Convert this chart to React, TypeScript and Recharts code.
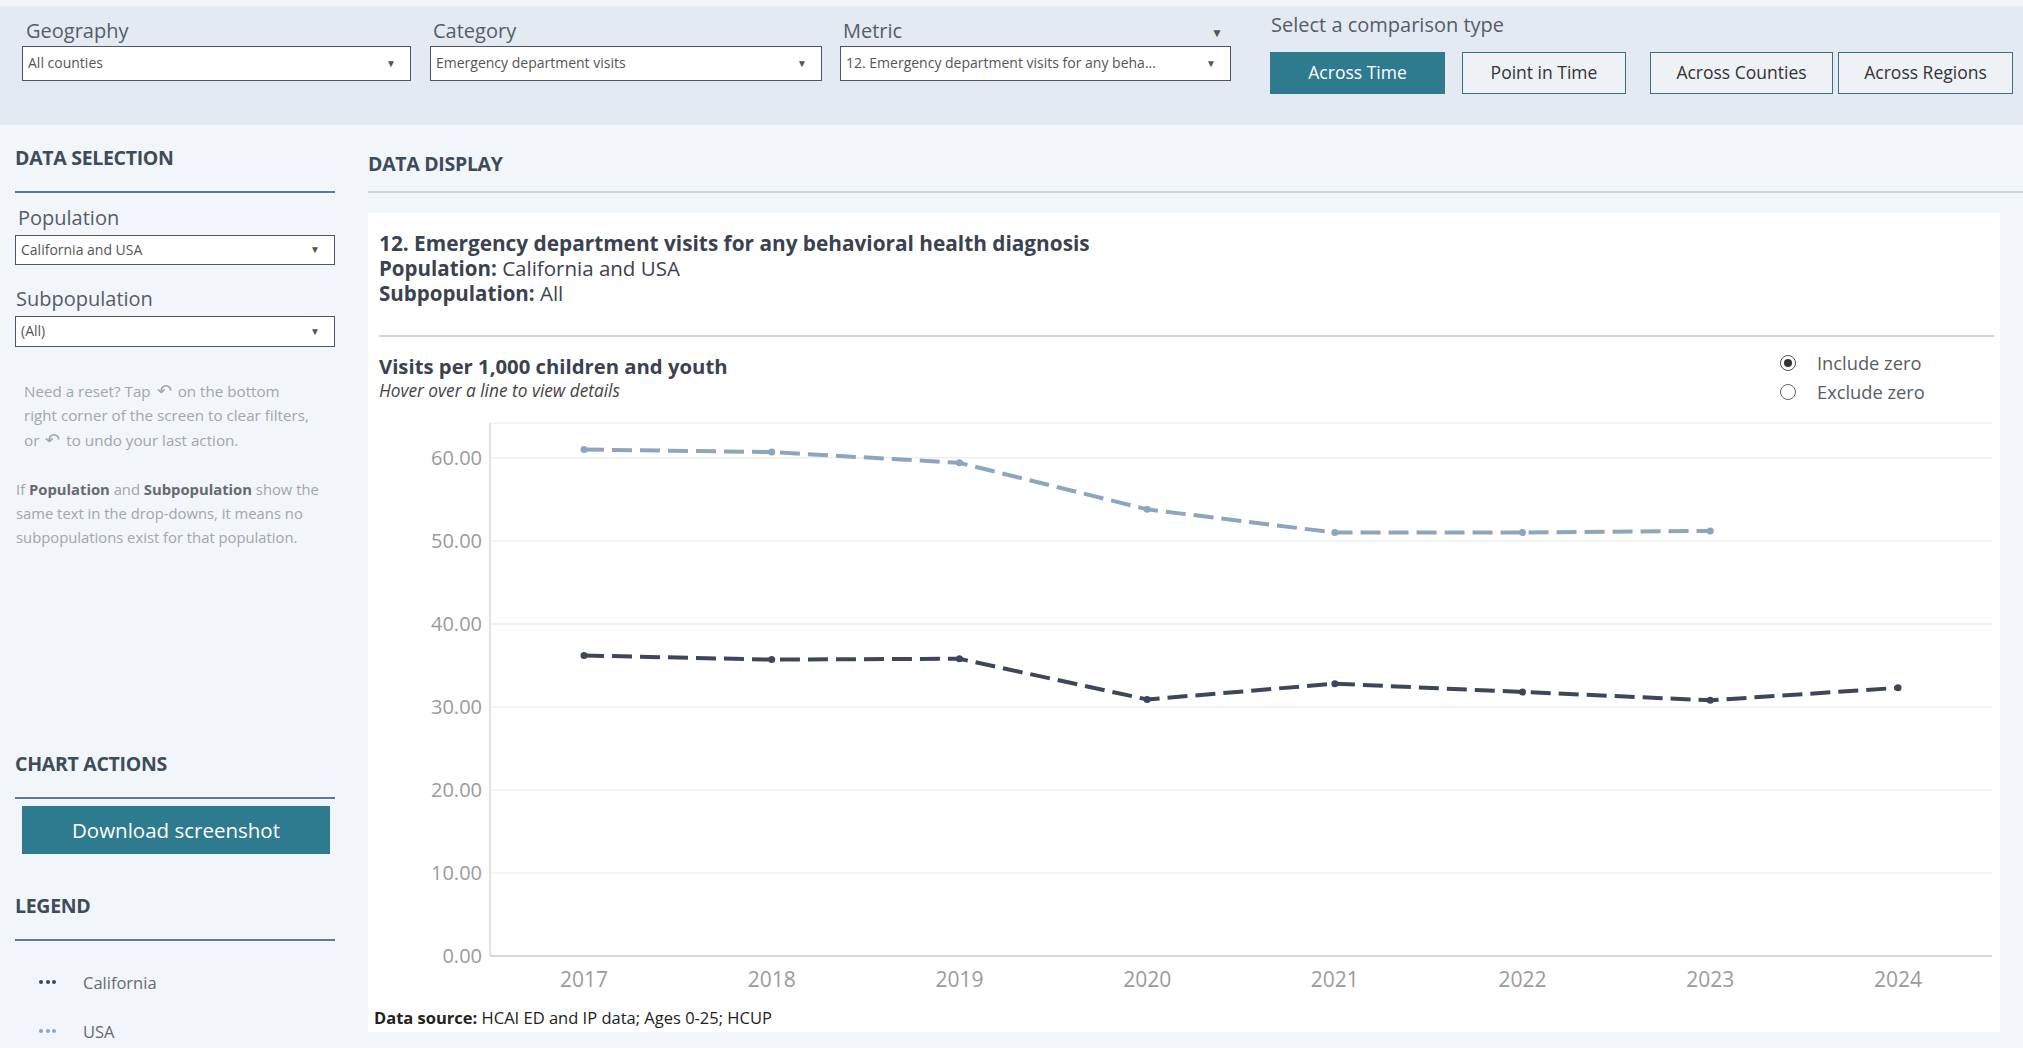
import React from 'react';
import { LineChart, Line, XAxis, YAxis, CartesianGrid } from 'recharts';

const years = ['2017', '2018', '2019', '2020', '2021', '2022', '2023', '2024'];
const californiaVisits = [36.2, 35.7, 35.8, 30.9, 32.8, 31.8, 30.8, 32.3];
const usaVisits = [61.0, 60.7, 59.4, 53.8, 51.0, 51.0, 51.2, null];
const yTicks = [0, 10, 20, 30, 40, 50, 60];

const comparisonTypes = ['Across Time', 'Point in Time', 'Across Counties', 'Across Regions'];

const data = years.map((year, i) => ({
  year,
  California: californiaVisits[i],
  USA: usaVisits[i],
}));

const FONT = '"Open Sans", Lato, sans-serif';
const CA_COLOR = '#3d4759';
const USA_COLOR = '#8da6bd';
const TEAL = '#2e7a8f';

const Txt = ({ x, y, size, children, style }: any) => (
  <div
    style={{
      position: 'absolute',
      left: x,
      top: y - size * 0.7,
      fontSize: size,
      lineHeight: `${size * 1.4}px`,
      whiteSpace: 'nowrap',
      ...style,
    }}
  >
    {children}
  </div>
);

const Dropdown = ({ x, y, w, h, label }: any) => (
  <div
    style={{
      position: 'absolute',
      left: x,
      top: y,
      width: w,
      height: h,
      boxSizing: 'border-box',
      background: '#fff',
      border: '1.5px solid #4d5566',
      fontSize: 14,
      color: '#555',
      lineHeight: `${h - 3}px`,
      paddingLeft: 5,
      whiteSpace: 'nowrap',
    }}
  >
    {label}
    <span style={{ position: 'absolute', right: 14, top: 0, fontSize: 10, color: '#555' }}>▼</span>
  </div>
);

const SectionHead = ({ x, y, w, label }: any) => (
  <>
    <Txt x={x} y={y} size={19.5} style={{ fontWeight: 700, color: '#3e4b5b', letterSpacing: -0.3 }}>{label}</Txt>
    <div style={{ position: 'absolute', left: x, top: y + 33, width: w, height: 2, background: '#5f7a90' }} />
  </>
);

const Undo = () => <span style={{ fontSize: 18, margin: '0 6px' }}>↶</span>;

// three little dots used as the legend swatch
const LegendDots = ({ x, y, color }: any) => (
  <>
    {[0, 1, 2].map((k) => (
      <div key={k} style={{ position: 'absolute', left: x + k * 6.5, top: y - 2, width: 4, height: 4, borderRadius: '50%', background: color }} />
    ))}
  </>
);

export default function App() {
  const buttonX = [1270, 1462, 1650, 1838];
  const buttonW = [175, 164, 183, 175];
  return (
    <div style={{ position: 'absolute', left: 0, top: 0, width: 2023, height: 1048, background: '#f2f5f9', fontFamily: FONT, overflow: 'hidden' }}>
      {/* header band */}
      <div style={{ position: 'absolute', left: 0, top: 6, width: 2023, height: 119, background: '#e4eaf2' }} />
      <Txt x={26} y={31} size={20} style={{ color: '#555d68' }}>Geography</Txt>
      <Dropdown x={22} y={46} w={389} h={35} label="All counties" />
      <Txt x={433} y={31} size={20} style={{ color: '#555d68' }}>Category</Txt>
      <Dropdown x={430} y={46} w={392} h={35} label="Emergency department visits" />
      <Txt x={843} y={31} size={20} style={{ color: '#555d68' }}>Metric</Txt>
      <div style={{ position: 'absolute', left: 1211, top: 24, fontSize: 12, color: '#555' }}>▼</div>
      <Dropdown x={840} y={46} w={391} h={35} label="12. Emergency department visits for any beha..." />
      <Txt x={1271} y={25} size={20} style={{ color: '#555d68' }}>Select a comparison type</Txt>
      {comparisonTypes.map((label, i) => (
        <div
          key={label}
          style={{
            position: 'absolute',
            left: buttonX[i],
            top: 52,
            width: buttonW[i],
            height: 42,
            boxSizing: 'border-box',
            background: i === 0 ? TEAL : '#eef2f7',
            border: `1.5px solid ${i === 0 ? TEAL : '#3e6f82'}`,
            color: i === 0 ? '#fff' : '#333',
            fontSize: 17.5,
            textAlign: 'center',
            lineHeight: '39px',
            whiteSpace: 'nowrap',
          }}
        >
          {label}
        </div>
      ))}

      {/* sidebar */}
      <SectionHead x={15} y={158} w={320} label="DATA SELECTION" />
      <Txt x={18} y={218} size={20} style={{ color: '#555d68' }}>Population</Txt>
      <Dropdown x={15} y={235} w={320} h={30} label="California and USA" />
      <Txt x={16} y={299} size={20} style={{ color: '#555d68' }}>Subpopulation</Txt>
      <Dropdown x={15} y={316} w={320} h={31} label="(All)" />
      <div style={{ position: 'absolute', left: 24, top: 378, fontSize: 15.2, lineHeight: '24px', color: '#a3a6aa', whiteSpace: 'nowrap' }}>
        Need a reset? Tap<Undo />on the bottom<br />right corner of the screen to clear filters,<br />or<Undo />to undo your last action.
      </div>
      <div style={{ position: 'absolute', left: 16, top: 477, fontSize: 14.8, lineHeight: '24px', color: '#a3a6aa', whiteSpace: 'nowrap' }}>
        If <b style={{ color: '#666a70' }}>Population</b> and <b style={{ color: '#666a70' }}>Subpopulation</b> show the<br />
        same text in the drop-downs, it means no<br />subpopulations exist for that population.
      </div>
      <SectionHead x={15} y={764} w={320} label="CHART ACTIONS" />
      <div style={{ position: 'absolute', left: 22, top: 806, width: 308, height: 48, background: TEAL, color: '#fff', fontSize: 20.5, textAlign: 'center', lineHeight: '48px' }}>
        Download screenshot
      </div>
      <SectionHead x={15} y={906} w={320} label="LEGEND" />
      <LegendDots x={39} y={982} color={CA_COLOR} />
      <Txt x={83} y={983} size={16.5} style={{ color: '#666a70' }}>California</Txt>
      <LegendDots x={39} y={1031} color={USA_COLOR} />
      <Txt x={83} y={1032} size={16.5} style={{ color: '#666a70' }}>USA</Txt>

      {/* data display */}
      <Txt x={368} y={164} size={19.5} style={{ fontWeight: 700, color: '#3e4b5b', letterSpacing: -0.3 }}>DATA DISPLAY</Txt>
      <div style={{ position: 'absolute', left: 368, top: 191, width: 1655, height: 2, background: '#c9d4df' }} />
      <div style={{ position: 'absolute', left: 368, top: 213, width: 1632, height: 819, background: '#fff' }} />
      <Txt x={379} y={244} size={20.8} style={{ fontWeight: 700, color: '#3a4250' }}>12. Emergency department visits for any behavioral health diagnosis</Txt>
      <Txt x={379} y={268} size={20.5} style={{ color: '#3a4250' }}><b>Population:</b> California and USA</Txt>
      <Txt x={379} y={293} size={20.5} style={{ color: '#3a4250' }}><b>Subpopulation:</b> All</Txt>
      <div style={{ position: 'absolute', left: 379, top: 335, width: 1615, height: 1.5, background: '#cfd5dc' }} />
      <Txt x={379} y={366} size={20.3} style={{ fontWeight: 700, color: '#3a4250' }}>Visits per 1,000 children and youth</Txt>
      <Txt x={379} y={391} size={17.3} style={{ fontStyle: 'italic', color: '#444' }}>Hover over a line to view details</Txt>
      <div style={{ position: 'absolute', left: 1780, top: 355, width: 14, height: 14, borderRadius: '50%', border: '1.5px solid #555', background: '#fff' }}>
        <div style={{ position: 'absolute', left: 3, top: 3, width: 8, height: 8, borderRadius: '50%', background: '#333' }} />
      </div>
      <Txt x={1817} y={363} size={18.3} style={{ color: '#555d68' }}>Include zero</Txt>
      <div style={{ position: 'absolute', left: 1780, top: 384, width: 14, height: 14, borderRadius: '50%', border: '1.5px solid #666', background: '#fff' }} />
      <Txt x={1817} y={392} size={18.3} style={{ color: '#555d68' }}>Exclude zero</Txt>

      <div style={{ position: 'absolute', left: 372, top: 413 }}>
        <LineChart width={1630} height={583} data={data} margin={{ top: 10, right: 10, bottom: 0, left: 0 }}>
          <CartesianGrid vertical={false} stroke="#efefef" strokeWidth={1.5} />
          <XAxis
            dataKey="year"
            height={40}
            padding={{ left: 94, right: 94 }}
            tickLine={false}
            tickMargin={10}
            axisLine={{ stroke: '#cfcfcf', strokeWidth: 1.5 }}
            tick={{ fill: '#9b9b9b', fontSize: 21, fontFamily: FONT }}
          />
          <XAxis xAxisId="top" dataKey="year" orientation="top" height={0} tick={false} tickLine={false} axisLine={{ stroke: '#dadada', strokeWidth: 1.5 }} />
          <YAxis
            width={118}
            domain={[0, 64.2]}
            ticks={yTicks}
            tickFormatter={(v: number) => v.toFixed(2)}
            tickLine={false}
            axisLine={{ stroke: '#dadada', strokeWidth: 1.5 }}
            tick={{ fill: '#9b9b9b', fontSize: 20, fontFamily: FONT }}
          />
          <YAxis yAxisId="right" orientation="right" width={0} tick={false} tickLine={false} axisLine={{ stroke: '#dadada', strokeWidth: 1.5 }} />
          <Line
            dataKey="USA"
            stroke={USA_COLOR}
            strokeWidth={4}
            strokeDasharray="20 8"
            dot={{ r: 3.5, fill: USA_COLOR, stroke: USA_COLOR, strokeWidth: 0 }}
            isAnimationActive={false}
          />
          <Line
            dataKey="California"
            stroke={CA_COLOR}
            strokeWidth={4}
            strokeDasharray="20 8"
            dot={{ r: 3.5, fill: CA_COLOR, stroke: CA_COLOR, strokeWidth: 0 }}
            isAnimationActive={false}
          />
        </LineChart>
      </div>

      <Txt x={374} y={1018} size={16.5} style={{ color: '#222' }}><b>Data source:</b> HCAI ED and IP data; Ages 0-25; HCUP</Txt>
    </div>
  );
}
